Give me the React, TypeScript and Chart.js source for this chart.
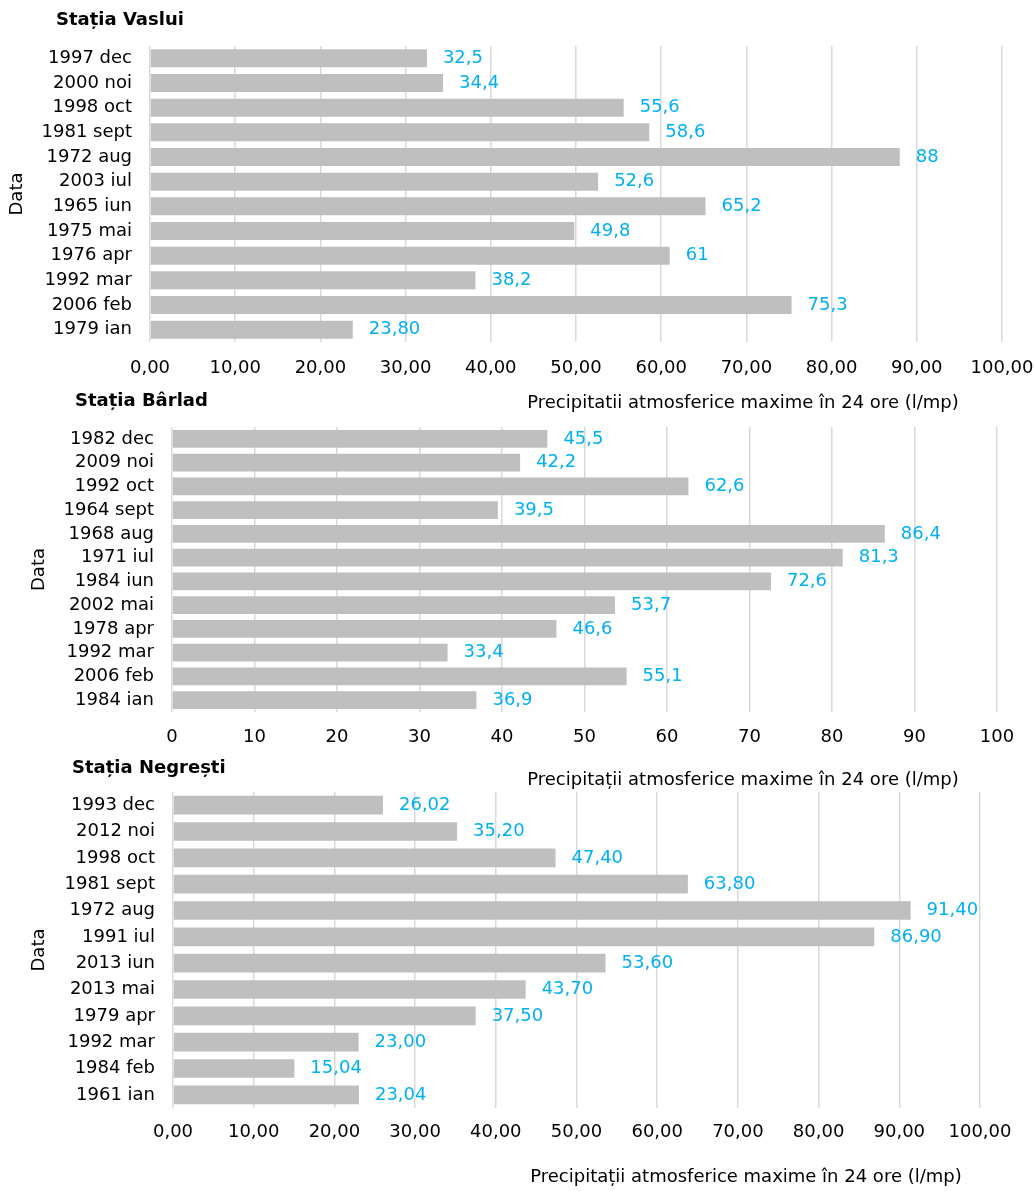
import React, { useEffect, useRef } from "react";
import { Chart, registerables } from "chart.js";

Chart.register(...registerables);

// ---------- Data ----------
const vasluiCategories = ["1997 dec", "2000 noi", "1998 oct", "1981 sept", "1972 aug", "2003 iul", "1965 iun", "1975 mai", "1976 apr", "1992 mar", "2006 feb", "1979 ian"];
const vasluiValues = [32.5, 34.4, 55.6, 58.6, 88, 52.6, 65.2, 49.8, 61, 38.2, 75.3, 23.8];
const vasluiLabels = ["32,5", "34,4", "55,6", "58,6", "88", "52,6", "65,2", "49,8", "61", "38,2", "75,3", "23,80"];

const barladCategories = ["1982 dec", "2009 noi", "1992 oct", "1964 sept", "1968 aug", "1971 iul", "1984 iun", "2002 mai", "1978 apr", "1992 mar", "2006 feb", "1984 ian"];
const barladValues = [45.5, 42.2, 62.6, 39.5, 86.4, 81.3, 72.6, 53.7, 46.6, 33.4, 55.1, 36.9];
const barladLabels = ["45,5", "42,2", "62,6", "39,5", "86,4", "81,3", "72,6", "53,7", "46,6", "33,4", "55,1", "36,9"];

const negrestiCategories = ["1993 dec", "2012 noi", "1998 oct", "1981 sept", "1972 aug", "1991 iul", "2013 iun", "2013 mai", "1979 apr", "1992 mar", "1984 feb", "1961 ian"];
const negrestiValues = [26.02, 35.2, 47.4, 63.8, 91.4, 86.9, 53.6, 43.7, 37.5, 23.0, 15.04, 23.04];
const negrestiLabels = ["26,02", "35,20", "47,40", "63,80", "91,40", "86,90", "53,60", "43,70", "37,50", "23,00", "15,04", "23,04"];

const stationTitles = ["Stația Vaslui", "Stația Bârlad", "Stația Negrești"];
const xAxisTitles = [
  "Precipitatii atmosferice maxime în 24 ore (l/mp)",
  "Precipitații atmosferice maxime în 24 ore (l/mp)",
  "Precipitații atmosferice maxime în 24 ore (l/mp)",
];
const yAxisTitle = "Data";

// ---------- Layout / style ----------
const W = 1035;
const H = 1191;
const X_H = 40;
const FONT = "'DejaVu Sans', Verdana, sans-serif";
const BAR = "#BFBFBF";
const GRID = "#D9D9D9";
const LABEL = "#00B0F0";

const fmt2 = (v: any) => Number(v).toFixed(2).replace(".", ",");
const fmt0 = (v: any) => String(Number(v));

type Panel = {
  categories: string[];
  values: number[];
  labels: string[];
  title: string;
  axisTitle: string;
  fmt: (v: any) => string;
  padLeft: number;
  left: number;
  right: number;
  top: number;
  bottom: number;
  barPct: number;
  tickPad: number;
  titleX: number;
  titleY: number;
  axisX: number;
  axisY: number;
};

const panels: Panel[] = [
  {
    categories: vasluiCategories, values: vasluiValues, labels: vasluiLabels,
    title: stationTitles[0], axisTitle: xAxisTitles[0], fmt: fmt2,
    padLeft: 0, left: 150, right: 1002, top: 46, bottom: 342, barPct: 0.73, tickPad: 16,
    titleX: 56, titleY: 20, axisX: 743, axisY: 403,
  },
  {
    categories: barladCategories, values: barladValues, labels: barladLabels,
    title: stationTitles[1], axisTitle: xAxisTitles[1], fmt: fmt0,
    padLeft: 22, left: 172, right: 997, top: 427, bottom: 712, barPct: 0.74, tickPad: 15,
    titleX: 75, titleY: 401, axisX: 743, axisY: 780,
  },
  {
    categories: negrestiCategories, values: negrestiValues, labels: negrestiLabels,
    title: stationTitles[2], axisTitle: xAxisTitles[2], fmt: fmt2,
    padLeft: 22, left: 173, right: 980, top: 792, bottom: 1108, barPct: 0.71, tickPad: 14,
    titleX: 72, titleY: 768, axisX: 746, axisY: 1177,
  },
];

function makeTextPlugin(p: Panel) {
  return {
    id: "panelText",
    afterDraw(chart: any) {
      const ctx = chart.ctx;
      ctx.save();
      ctx.textBaseline = "middle";
      ctx.fillStyle = "#000";
      ctx.font = `bold 18px ${FONT}`;
      ctx.textAlign = "left";
      ctx.fillText(p.title, p.titleX, p.titleY);
      ctx.font = `18px ${FONT}`;
      ctx.textAlign = "center";
      ctx.fillText(p.axisTitle, p.axisX, p.axisY);
      const meta = chart.getDatasetMeta(0);
      ctx.fillStyle = LABEL;
      ctx.textAlign = "left";
      meta.data.forEach((el: any, i: number) => {
        ctx.fillText(p.labels[i], el.x + 16, el.y);
      });
      ctx.restore();
    },
  };
}

function PanelChart({ p }: { p: Panel }) {
  const ref = useRef<HTMLCanvasElement | null>(null);
  useEffect(() => {
    if (!ref.current) return;
    const chart = new Chart(ref.current, {
      type: "bar",
      data: {
        labels: p.categories,
        datasets: [
          {
            data: p.values,
            backgroundColor: BAR,
            borderWidth: 0,
            barPercentage: p.barPct,
            categoryPercentage: 1,
          },
        ],
      },
      options: {
        indexAxis: "y",
        responsive: false,
        animation: false,
        events: [],
        layout: {
          padding: {
            left: p.padLeft,
            right: W - p.right,
            top: p.top,
            bottom: H - p.bottom - X_H,
          },
        },
        plugins: {
          legend: { display: false },
          tooltip: { enabled: false },
          title: { display: false },
        },
        scales: {
          x: {
            min: 0,
            max: 100,
            ticks: {
              stepSize: 10,
              callback: (v: any) => p.fmt(v),
              padding: p.tickPad,
              color: "#000",
              font: { size: 18, family: FONT },
              maxRotation: 0,
            },
            grid: { color: GRID, lineWidth: 1.5, drawTicks: false },
            border: { display: false },
            afterFit: (s: any) => {
              s.height = X_H;
              s.paddingLeft = 0;
              s.paddingRight = 0;
            },
          },
          y: {
            ticks: {
              padding: 18,
              color: "#000",
              font: { size: 18, family: FONT },
              autoSkip: false,
            },
            grid: { display: false, drawTicks: false },
            border: { display: false },
            title: {
              display: true,
              text: yAxisTitle,
              color: "#000",
              font: { size: 18, family: FONT },
              padding: { top: 7, bottom: 0 },
            },
            afterFit: (s: any) => {
              s.width = p.left - p.padLeft;
            },
          },
        },
      } as any,
      plugins: [makeTextPlugin(p)],
    });
    return () => chart.destroy();
  }, [p]);
  return (
    <canvas
      ref={ref}
      width={W}
      height={H}
      style={{ position: "absolute", left: 0, top: 0, width: W, height: H }}
    />
  );
}

export default function App() {
  return (
    <div style={{ position: "absolute", left: 0, top: 0, width: W, height: H, background: "#fff" }}>
      {panels.map((p, i) => (
        <PanelChart key={i} p={p} />
      ))}
    </div>
  );
}
